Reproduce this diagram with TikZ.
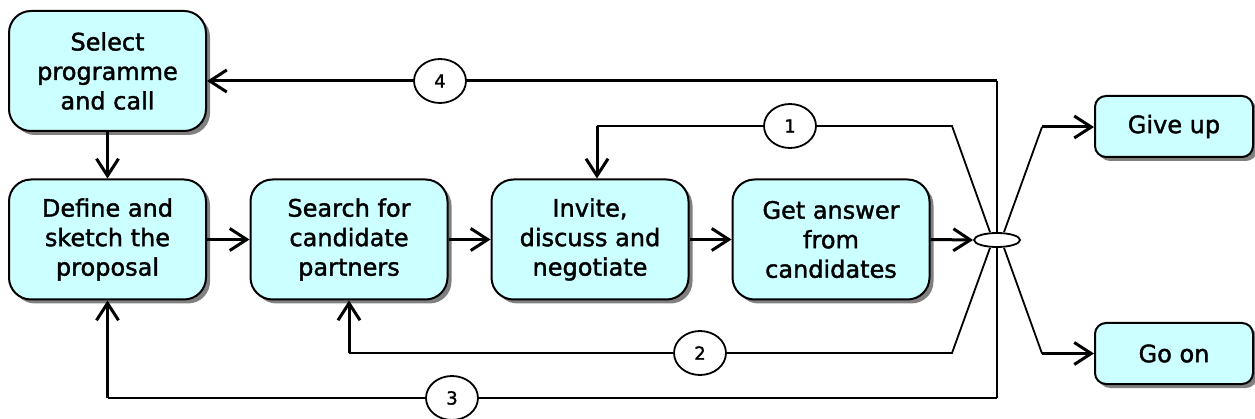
\documentclass[tikz,border=0pt]{standalone}
\usepackage{fontspec}
\setmainfont{DejaVu Sans}
\newfontfamily\boxfont{DejaVu Sans}[FakeBold=1.6]
\usetikzlibrary{arrows.meta,shadows,shapes.geometric,calc}
\definecolor{boxcyan}{HTML}{CCFFFF}
\begin{document}
\begin{tikzpicture}[x=1pt,y=-1pt,
 box/.style={draw=black, line width=2pt, fill=boxcyan, rounded corners=22pt,
   minimum width=197pt, minimum height=120pt, inner sep=2pt, align=center,
   font=\boxfont\fontsize{24}{29.5}\selectfont,
   drop shadow={shadow xshift=4pt, shadow yshift=-4pt, fill=black!50, opacity=1}},
 smallbox/.style={box, rounded corners=11pt, minimum width=158pt, minimum height=61pt},
 main/.style={line width=3pt, -{Straight Barb[length=17pt,width=22pt]}},
 loopl/.style={line width=1.8pt},
 num/.style={ellipse, draw, line width=1.8pt, fill=white, minimum width=52pt,
   minimum height=44pt, inner sep=0pt, font=\boxfont\fontsize{18}{18}\selectfont},
 oval/.style={ellipse, draw, line width=1.8pt, fill=white, minimum width=46pt,
   minimum height=14pt, inner sep=0pt}
]
\useasboundingbox (0,0) rectangle (1255,419);

\node[box] (sel) at (107.5,71) {Select\\programme\\and call};
\node[box] (def) at (107.5,239.5) {Define and\\sketch the\\proposal};
\node[box] (sea) at (349,239.5) {Search for\\candidate\\partners};
\node[box] (inv) at (590,239.5) {Invite,\\discuss and\\negotiate};
\node[box] (get) at (831,239.5) {Get answer\\from\\candidates};
\node[smallbox] (give) at (1174,126.5) {Give up};
\node[smallbox] (goon) at (1174,353.5) {Go on};

\coordinate (vt) at (997,81);
\coordinate (vb) at (997,398);
\coordinate (k1) at (952,126);
\coordinate (k2) at (952,353);
\coordinate (kg) at (1042,127);
\coordinate (ko) at (1042,353.5);
\coordinate (c1) at (597,126);

% main flow
\draw[main] (sel.south) -- (def.north);
\draw[main] (def.east) -- (sea.west);
\draw[main] (sea.east) -- (inv.west);
\draw[main] (inv.east) -- (get.west);

% vertical line and loops 4 / 3
\draw[loopl] (vt) -- (vb);
\draw[main] (vt) -- (sel.east |- vt);
\draw[loopl] (vb) -- (def.south |- vb);
\draw[main] (def.south |- vb) -- (def.south);

\node[oval] (ov) at (997,240) {};
\draw[main] (get.east) -- (ov.west);

% loop 1
\draw[loopl] ($(ov.north)+(-7,0)$) -- (k1) -- (c1);
\draw[main] (c1) -- (inv.north -| c1);
% loop 2
\draw[loopl] ($(ov.south)+(-7,0)$) -- (k2) -- (sea.south |- k2);
\draw[main] (sea.south |- k2) -- (sea.south);
% exits
\draw[loopl] ($(ov.north)+(7,0)$) -- (kg);
\draw[main] (kg) -- (give.west |- kg);
\draw[loopl] ($(ov.south)+(7,0)$) -- (ko);
\draw[main] (ko) -- (goon.west);

\node[num] (n1) at (790,126) {1};
\node[num] (n2) at (700,353) {2};
\node[num] (n3) at (452,398) {3};
\node[num] (n4) at (440,81) {4};
\end{tikzpicture}
\end{document}
